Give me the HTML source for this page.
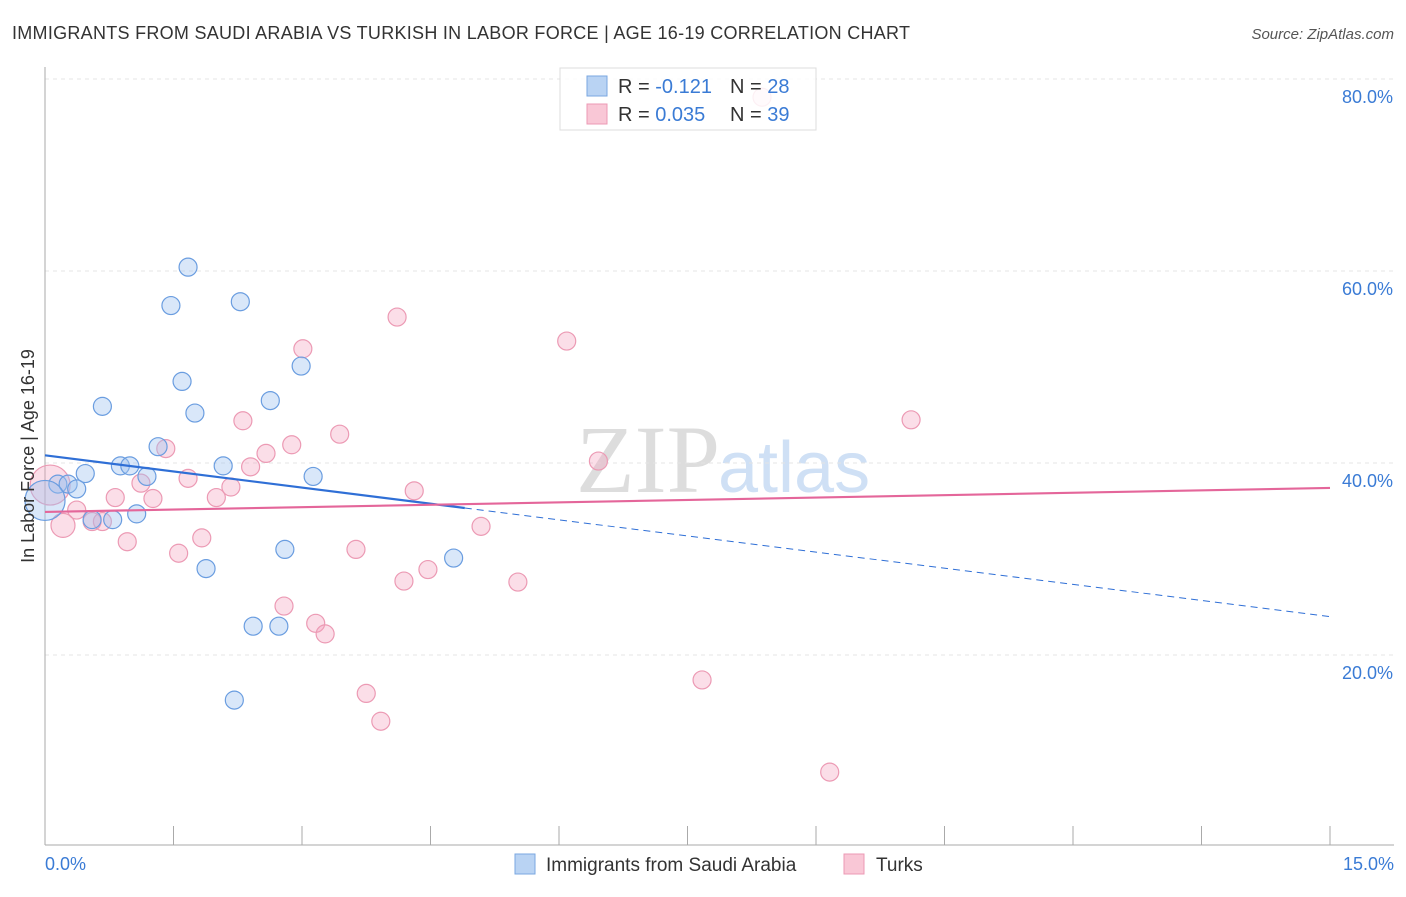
<!DOCTYPE html>
<html><head><meta charset="utf-8"><style>
body{margin:0;background:#fff;font-family:"Liberation Sans",sans-serif;}
</style></head><body>
<svg id="chart" width="1406" height="892" xmlns="http://www.w3.org/2000/svg">
<text x="12" y="39" font-size="18" fill="#333" textLength="898">IMMIGRANTS FROM SAUDI ARABIA VS TURKISH IN LABOR FORCE | AGE 16-19 CORRELATION CHART</text>
<text x="1394" y="39" font-size="15" fill="#555" font-style="italic" text-anchor="end">Source: ZipAtlas.com</text>
<text x="720" y="492" font-size="96" fill="#ddd" font-family="Liberation Serif,serif" text-anchor="end">ZIP</text>
<text x="718" y="492" font-size="72" fill="#cfe0f5">atlas</text>
<g id="grid"></g><g id="axes"></g><g id="marks"></g>
<text transform="translate(34,456) rotate(-90)" font-size="18" fill="#333" text-anchor="middle">In Labor Force | Age 16-19</text>
<g>
<rect x="560" y="68" width="256" height="62" fill="rgba(255,255,255,0.85)" stroke="#ddd"/>
<rect x="587" y="76" width="20" height="20" fill="#b9d3f3" stroke="#7aa7e0"/>
<rect x="587" y="104" width="20" height="20" fill="#f9c7d6" stroke="#ec9ab4"/>
<text x="618" y="93" font-size="20" fill="#333">R = <tspan fill="#3a7bd5">-0.121</tspan><tspan x="730">N = </tspan><tspan fill="#3a7bd5">28</tspan></text>
<text x="618" y="121" font-size="20" fill="#333">R = <tspan fill="#3a7bd5">0.035</tspan><tspan x="730">N = </tspan><tspan fill="#3a7bd5">39</tspan></text>
</g>
<g>
<rect x="515" y="854" width="20" height="20" fill="#b9d3f3" stroke="#7aa7e0"/>
<text x="546" y="871" font-size="19" fill="#333">Immigrants from Saudi Arabia</text>
<rect x="844" y="854" width="20" height="20" fill="#f9c7d6" stroke="#ec9ab4"/>
<text x="876" y="871" font-size="19" fill="#333">Turks</text>
</g>
</svg>
<script>
const yTicks=[20,40,60,80];
const yTickLabels=["20.0%","40.0%","60.0%","80.0%"];
const xEndLabels=["0.0%","15.0%"];
const blueX=[1.67,1.47,2.28,1.60,2.99,0.67,1.75,2.63,1.32,0.88,0.99,2.08,1.19,0.47,3.13,0.15,0.27,0.37,1.07,0.79,0.55,2.80,4.77,1.88,2.43,2.73,2.21,0];
const blueY=[60.4,56.4,56.8,48.5,50.1,45.9,45.2,46.5,41.7,39.7,39.7,39.7,38.6,38.9,38.6,37.8,37.8,37.3,34.7,34.1,34.1,31.0,30.1,29.0,23.0,23.0,15.3,36.1];
const blueR=[9,9,9,9,9,9,9,9,9,9,9,9,9,9,9,9,9,9,9,9,9,9,9,9,9,9,9,20];
const pinkX=[8.37,4.11,3.01,6.09,10.11,2.31,3.44,2.88,1.41,2.58,2.40,6.46,1.67,2.17,4.31,0.82,1.26,2.00,0.37,0.55,0.67,0.21,5.09,0.96,1.83,3.63,1.56,4.47,4.19,5.52,2.79,3.16,3.27,7.67,3.75,3.92,9.16,0.06,1.12];
const pinkY=[78.1,55.2,51.9,52.7,44.5,44.4,43.0,41.9,41.5,41.0,39.6,40.2,38.4,37.5,37.1,36.4,36.3,36.4,35.1,33.9,33.9,33.5,33.4,31.8,32.2,31.0,30.6,28.9,27.7,27.6,25.1,23.3,22.2,17.4,16.0,13.1,7.8,37.7,37.9];
const pinkR=[9,9,9,9,9,9,9,9,9,9,9,9,9,9,9,9,9,9,9,9,9,12,9,9,9,9,9,9,9,9,9,9,9,9,9,9,9,20,9];
const blueTrend=[40.8,24.0];
const blueSolidEnd=4.9;
const pinkTrend=[34.9,37.4];
const X=v=>45+v/15*1285, Y=v=>847-v*9.6;
const NS="http://www.w3.org/2000/svg";
function mk(tag,attrs,parent){const e=document.createElementNS(NS,tag);for(const k in attrs)e.setAttribute(k,attrs[k]);document.getElementById(parent).appendChild(e);return e;}
yTicks.forEach((t,i)=>{
 const l=mk('line',{x1:45,x2:1394,y1:Y(t),y2:Y(t),stroke:'#e4e4e4','stroke-dasharray':'4,4'},'grid');
 
 
 const tx=mk('text',{x:1393,y:Y(t)+24,'font-size':18,fill:'#3a7bd5','text-anchor':'end'},'grid');
 tx.textContent=yTickLabels[i];
 
 
});
const ax=mk('line',{x1:45,x2:45,y1:67,y2:845,stroke:'#aaa'},'axes');


const bx=mk('line',{x1:45,x2:1394,y1:845,y2:845,stroke:'#aaa'},'axes');


for(let i=1;i<=10;i++){const t=mk('line',{x1:X(i*1.5),x2:X(i*1.5),y1:826,y2:845,stroke:'#aaa'},'axes');
 
 }
[[0,'start',45],[1,'end',1394]].forEach(([i,a,x])=>{const t=mk('text',{x:x,y:870,'font-size':18,fill:'#3a7bd5','text-anchor':a},'axes');t.textContent=xEndLabels[i];
 
 });
pinkX.forEach((x,i)=>{const c=mk('circle',{cx:X(x),cy:Y(pinkY[i]),r:pinkR[i],fill:'rgba(244,160,188,0.35)',stroke:'#ec9ab4','stroke-width':1.2},'marks');
 
 });
blueX.forEach((x,i)=>{const c=mk('circle',{cx:X(x),cy:Y(blueY[i]),r:blueR[i],fill:'rgba(160,195,240,0.4)',stroke:'#6a9de0','stroke-width':1.2},'marks');
 
 });
const bAt=v=>blueTrend[0]+(blueTrend[1]-blueTrend[0])*v/15;
const b1=mk('line',{x1:X(0),y1:Y(blueTrend[0]),x2:X(blueSolidEnd),y2:Y(bAt(blueSolidEnd)),stroke:'#2f6fd6','stroke-width':2.2},'marks');


const b2=mk('line',{x1:X(blueSolidEnd),y1:Y(bAt(blueSolidEnd)),x2:X(15),y2:Y(blueTrend[1]),stroke:'#2f6fd6','stroke-width':1,'stroke-dasharray':'7,5'},'marks');


const p1=mk('line',{x1:X(0),y1:Y(pinkTrend[0]),x2:X(15),y2:Y(pinkTrend[1]),stroke:'#e4669a','stroke-width':2.2},'marks');


</script>
</body></html>
